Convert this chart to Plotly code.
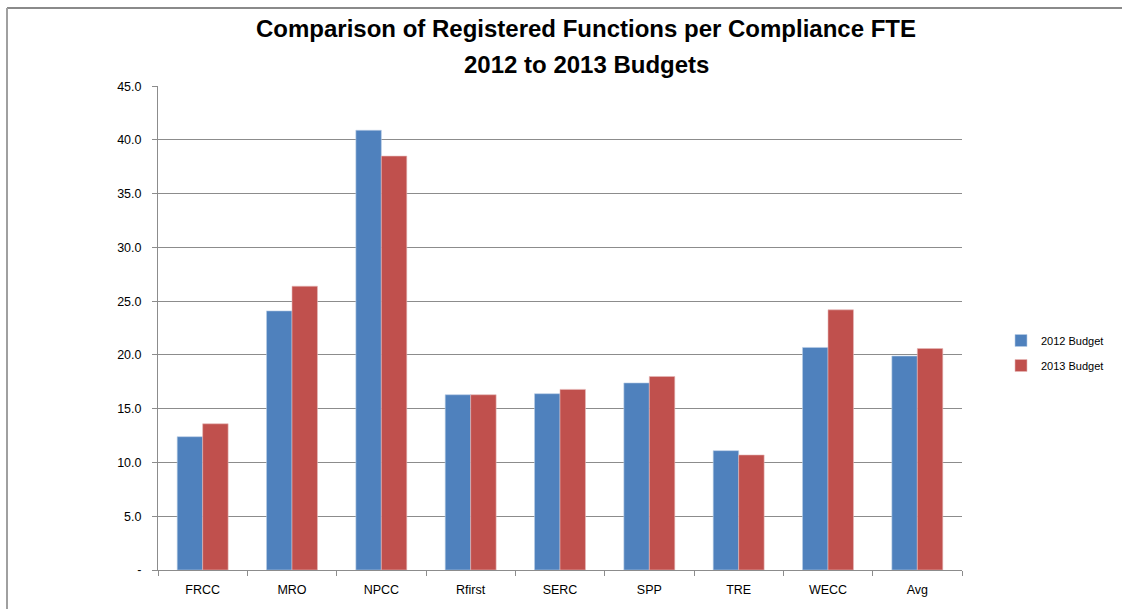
import plotly.graph_objects as go

categories = ["FRCC", "MRO", "NPCC", "Rfirst", "SERC", "SPP", "TRE", "WECC", "Avg"]
budget_2012 = [12.4, 24.1, 40.9, 16.3, 16.4, 17.4, 11.1, 20.7, 19.9]
budget_2013 = [13.6, 26.4, 38.5, 16.3, 16.8, 18.0, 10.7, 24.2, 20.6]
y_tick_vals = [0, 5, 10, 15, 20, 25, 30, 35, 40, 45]
y_tick_text = ["-", "5.0", "10.0", "15.0", "20.0", "25.0", "30.0", "35.0", "40.0", "45.0"]
title_line1 = "Comparison of Registered Functions per Compliance FTE"
title_line2 = "2012 to 2013 Budgets"

W, H = 1122, 609
L, R, T, B = 158, 962, 86, 570

FONT = "Liberation Sans, Arial, sans-serif"
GRID = "#8c8c8c"

fig = go.Figure()
fig.add_trace(go.Bar(name="2012 Budget", x=categories, y=budget_2012, legendgroup="a",
                     marker=dict(color="#4F81BD", line=dict(color="#b9cde5", width=0.6))))
fig.add_trace(go.Bar(name="2013 Budget", x=categories, y=budget_2013, legendgroup="b",
                     marker=dict(color="#C0504D", line=dict(color="#e6b9b8", width=0.6))))

def px_x(p):
    return (p - L) / (R - L)

def px_y(p):
    return (B - p) / (B - T)

fig.update_layout(
    width=W, height=H,
    margin=dict(l=L, r=W - R, t=T, b=H - B, autoexpand=False),
    paper_bgcolor="white", plot_bgcolor="white",
    barmode="group", bargap=0.43, bargroupgap=0,
    font=dict(family=FONT, size=12, color="#000000"),
    title=dict(text="<b>" + title_line1 + "</b>",
               x=586 / W, xanchor="center", y=1 - 29 / H, yanchor="middle",
               font=dict(family=FONT, size=24, color="#000000")),
    annotations=[
        dict(text="<b>" + title_line2 + "</b>", xref="paper", yref="paper",
             x=px_x(586), y=px_y(65), xanchor="center", yanchor="middle",
             showarrow=False, font=dict(family=FONT, size=24, color="#000000")),
    ],
    legend=dict(x=px_x(1001), xanchor="left", y=px_y(326), yanchor="top",
                font=dict(family=FONT, size=11), itemwidth=30,
                traceorder="grouped", tracegroupgap=6,
                bgcolor="rgba(0,0,0,0)"),
    showlegend=True,
    xaxis=dict(showline=True, linecolor=GRID, linewidth=1, ticks="outside",
               tickson="boundaries", ticklen=5, tickcolor=GRID, showgrid=False,
               ticklabelstandoff=8,
               tickfont=dict(family=FONT, size=12.5)),
    yaxis=dict(range=[0, 45.02], tickvals=y_tick_vals, ticktext=y_tick_text,
               showline=True, linecolor=GRID, linewidth=1, ticks="outside",
               ticklen=5, tickcolor=GRID, showgrid=True, gridcolor=GRID, gridwidth=1,
               zeroline=False, ticklabelstandoff=8,
               tickfont=dict(family=FONT, size=12.5)),
    shapes=[
        dict(type="line", xref="paper", yref="paper", x0=px_x(7), x1=px_x(1130),
             y0=px_y(8), y1=px_y(8), line=dict(color="#8a8a8a", width=2)),
        dict(type="line", xref="paper", yref="paper", x0=px_x(7), x1=px_x(7),
             y0=px_y(8), y1=px_y(620), line=dict(color="#a0a0a0", width=2)),
    ],
)

fig.write_html("out.html", config={"displayModeBar": False},
               post_script="document.body.style.margin='0';document.body.style.overflow='hidden';")
